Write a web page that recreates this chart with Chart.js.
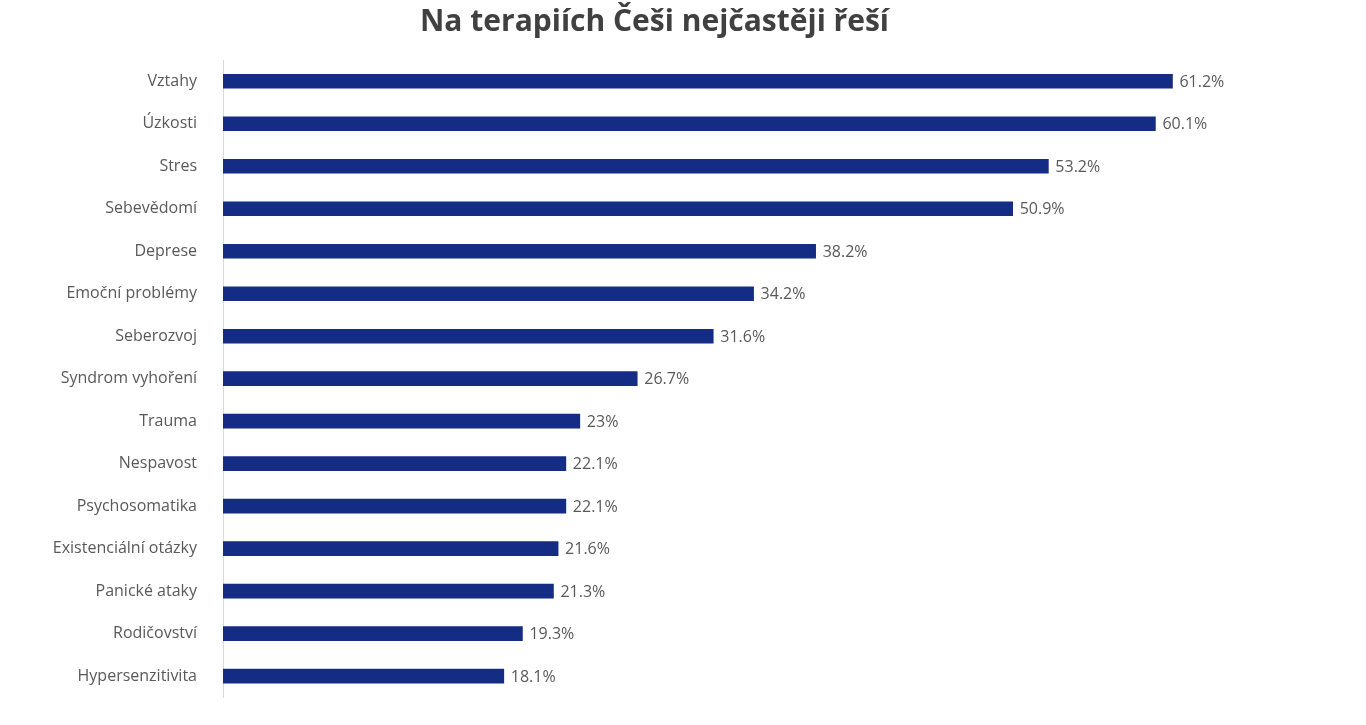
<!DOCTYPE html>
<html><head><meta charset="utf-8">
<script src="https://cdn.jsdelivr.net/npm/chart.js@4"></script>
<style>html,body{margin:0;padding:0;background:#fff}#w{width:1366px;height:725px}</style>
</head><body><div id="w"><canvas id="c"></canvas></div>
<script>
const categories = ["Vztahy","Úzkosti","Stres","Sebevědomí","Deprese","Emoční problémy","Seberozvoj","Syndrom vyhoření","Trauma","Nespavost","Psychosomatika","Existenciální otázky","Panické ataky","Rodičovství","Hypersenzitivita"];
const values = [61.2,60.1,53.2,50.9,38.2,34.2,31.6,26.7,23,22.1,22.1,21.6,21.3,19.3,18.1];
const valueLabels = ["61.2%","60.1%","53.2%","50.9%","38.2%","34.2%","31.6%","26.7%","23%","22.1%","22.1%","21.6%","21.3%","19.3%","18.1%"];
const FONT = "'Open Sans', 'Noto Sans', sans-serif";
const labelPlugin = {
  id: 'vals',
  afterDatasetsDraw(chart) {
    const ctx = chart.ctx;
    const meta = chart.getDatasetMeta(0);
    ctx.save();
    ctx.font = "16px " + FONT;
    ctx.fillStyle = "#595959";
    ctx.textBaseline = "middle";
    meta.data.forEach((bar, i) => { ctx.fillText(valueLabels[i], bar.x + 7, bar.y + 1); });
    ctx.restore();
  }
};
new Chart(document.getElementById('c'), {
  type: 'bar',
  data: { labels: categories, datasets: [{ data: values, backgroundColor: '#142c83', barThickness: 14 }] },
  options: {
    indexAxis: 'y', responsive: true, maintainAspectRatio: false, animation: false,
    layout: { padding: { left: 0, right: 57, top: 0, bottom: 17 } },
    plugins: {
      legend: { display: false }, tooltip: { enabled: false },
      title: { display: true, text: 'Na terapiích Češi nejčastěji řeší', color: '#404040',
        font: { family: FONT, size: 30, weight: 'bold' }, padding: { top: 4, bottom: 20 } }
    },
    scales: {
      x: { min: 0, max: 70, display: false },
      y: {
        grid: { display: false },
        border: { display: true, color: '#d9d9d9', width: 1 },
        ticks: { color: '#595959', font: { family: FONT, size: 16 }, padding: 18 },
        afterFit(s) { s.width = 223; }
      }
    }
  },
  plugins: [labelPlugin]
});
</script></body></html>
